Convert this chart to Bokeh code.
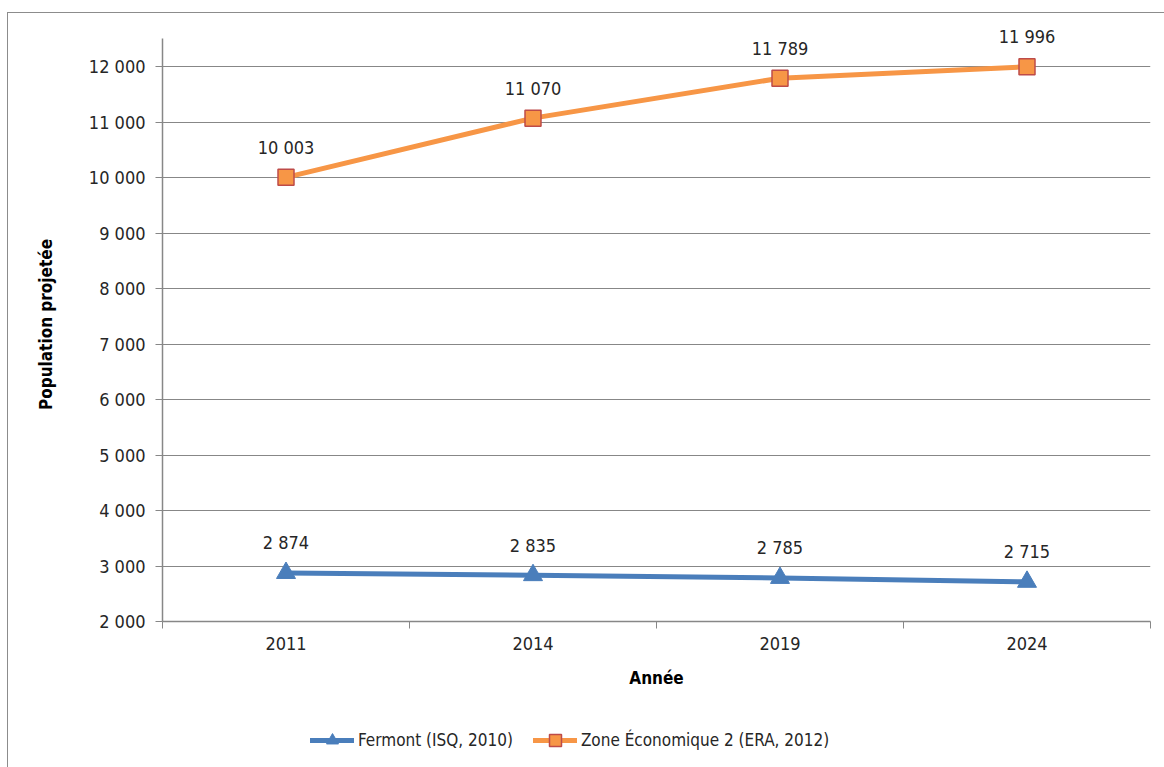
from bokeh.plotting import figure
from bokeh.layouts import column
from bokeh.models import (ColumnDataSource, FixedTicker, Legend, LegendItem,
                          Range1d)
from bokeh.core.properties import value
from bokeh.embed import file_html
from bokeh.resources import INLINE

# Projected population by year
years = ["2011", "2014", "2019", "2024"]
fermont = [2874, 2835, 2785, 2715]
zone_eco = [10003, 11070, 11789, 11996]
y_ticks = [2000, 3000, 4000, 5000, 6000, 7000, 8000, 9000, 10000, 11000, 12000]

series_names = ["Fermont (ISQ, 2010)", "Zone Économique 2 (ERA, 2012)"]


def fmt(n):
    return f"{n:,}".replace(",", " ")


FONT = "DejaVu Sans Condensed, Roboto"
TEXT = "#262626"
GREY = "#878787"
BLUE = "#4A7EBB"
ORANGE = "#F79646"
RED_EDGE = "#BE4B48"
FS = "18px"
TITLE_FS = "17px"

xs = [i + 0.5 for i in range(len(years))]

src_f = ColumnDataSource(dict(x=xs, y=fermont, lab=[fmt(v) for v in fermont]))
src_z = ColumnDataSource(dict(x=xs, y=zone_eco, lab=[fmt(v) for v in zone_eco]))

# main chart; the frame reaches a little above the axis so the top value
# labels have room, while the y axis line itself stops at 12 505
p = figure(width=1156, height=704, output_backend="svg", toolbar_location=None,
           x_range=Range1d(0, len(years)), y_range=Range1d(2000, 12703),
           min_border_left=154, min_border_right=14, min_border_top=14,
           min_border_bottom=96)
p.outline_line_color = None
p.background_fill_color = "white"
p.border_fill_color = "white"

p.xgrid.visible = False
p.ygrid.grid_line_color = GREY
p.ygrid.grid_line_width = 1

# y axis
yax = p.yaxis[0]
yax.bounds = (2000, 12505)
yax.ticker = FixedTicker(ticks=y_ticks)
yax.major_label_overrides = {t: fmt(t) for t in y_ticks}
yax.axis_line_color = GREY
yax.axis_line_width = 1.5
yax.major_tick_line_color = GREY
yax.major_tick_in = 0
yax.major_tick_out = 7
yax.minor_tick_line_color = None
yax.major_label_text_font = FONT
yax.major_label_text_font_size = FS
yax.major_label_text_color = TEXT
yax.major_label_standoff = 10
yax.axis_label = "Population projetée"
yax.axis_label_text_font = FONT
yax.axis_label_text_font_size = TITLE_FS
yax.axis_label_text_font_style = "bold"
yax.axis_label_text_color = "#000000"
yax.axis_label_standoff = 30

# x axis: labels centred on categories, ticks on category boundaries
xax = p.xaxis[0]
xax.ticker = FixedTicker(ticks=xs, minor_ticks=list(range(len(years) + 1)))
xax.major_label_overrides = {x: y for x, y in zip(xs, years)}
xax.axis_line_color = GREY
xax.axis_line_width = 1.5
xax.major_tick_line_color = None
xax.major_tick_in = 0
xax.major_tick_out = 7
xax.minor_tick_line_color = GREY
xax.minor_tick_in = 0
xax.minor_tick_out = 7
xax.major_label_text_font = FONT
xax.major_label_text_font_size = FS
xax.major_label_text_color = TEXT
xax.major_label_standoff = 8
xax.axis_label = "Année"
xax.axis_label_text_font = FONT
xax.axis_label_text_font_size = TITLE_FS
xax.axis_label_text_font_style = "bold"
xax.axis_label_text_color = "#000000"
xax.axis_label_standoff = 15

# series
LINE_F = dict(line_color=BLUE, line_width=5)
MARK_F = dict(marker="triangle", size=19, fill_color=BLUE, line_color=BLUE)
LINE_Z = dict(line_color=ORANGE, line_width=5)
MARK_Z = dict(marker="square", size=16, fill_color=ORANGE, line_color=RED_EDGE,
              line_width=1.5)

p.line("x", "y", source=src_f, **LINE_F)
p.scatter("x", "y", source=src_f, **MARK_F)
p.line("x", "y", source=src_z, **LINE_Z)
p.scatter("x", "y", source=src_z, **MARK_Z)

# value labels above each point
for src in (src_f, src_z):
    p.text("x", "y", text="lab", source=src, text_align="center",
           text_baseline="middle", y_offset=-30,
           text_font=value(FONT), text_font_size=FS, text_color=TEXT)

# legend strip under the chart: same series, drawn against a range that keeps
# them out of view, so only their legend keys show
q = figure(width=1156, height=50, output_backend="svg", toolbar_location=None,
           x_range=Range1d(0, 1), y_range=Range1d(0, 1),
           min_border_left=0, min_border_right=0, min_border_top=0,
           min_border_bottom=0)
q.axis.visible = False
q.grid.visible = False
q.outline_line_color = None
q.background_fill_color = "white"
q.border_fill_color = "white"

LEG_LINE = dict(line_cap="round")
kf = [q.line("x", "y", source=src_f, **LINE_F, **LEG_LINE),
      q.scatter("x", "y", source=src_f, **MARK_F)]
kz = [q.line("x", "y", source=src_z, **LINE_Z, **LEG_LINE),
      q.scatter("x", "y", source=src_z, **MARK_Z)]

legend = Legend(items=[LegendItem(label=series_names[0], renderers=kf),
                       LegendItem(label=series_names[1], renderers=kz)],
                orientation="horizontal", location=(148, 12),
                glyph_width=44, glyph_height=30, label_standoff=4, spacing=20,
                padding=0, margin=0, border_line_color=None,
                background_fill_alpha=0,
                label_text_font=FONT, label_text_font_size="17px",
                label_text_color=TEXT)
q.add_layout(legend, "center")

page = column(p, q, spacing=0)
page.margin = (12, 0, 0, 7)
page.styles = {"border-left": "1px solid #8c8c8c", "border-top": "1px solid #8c8c8c"}

open("out.html", "w").write(file_html(page, INLINE))
